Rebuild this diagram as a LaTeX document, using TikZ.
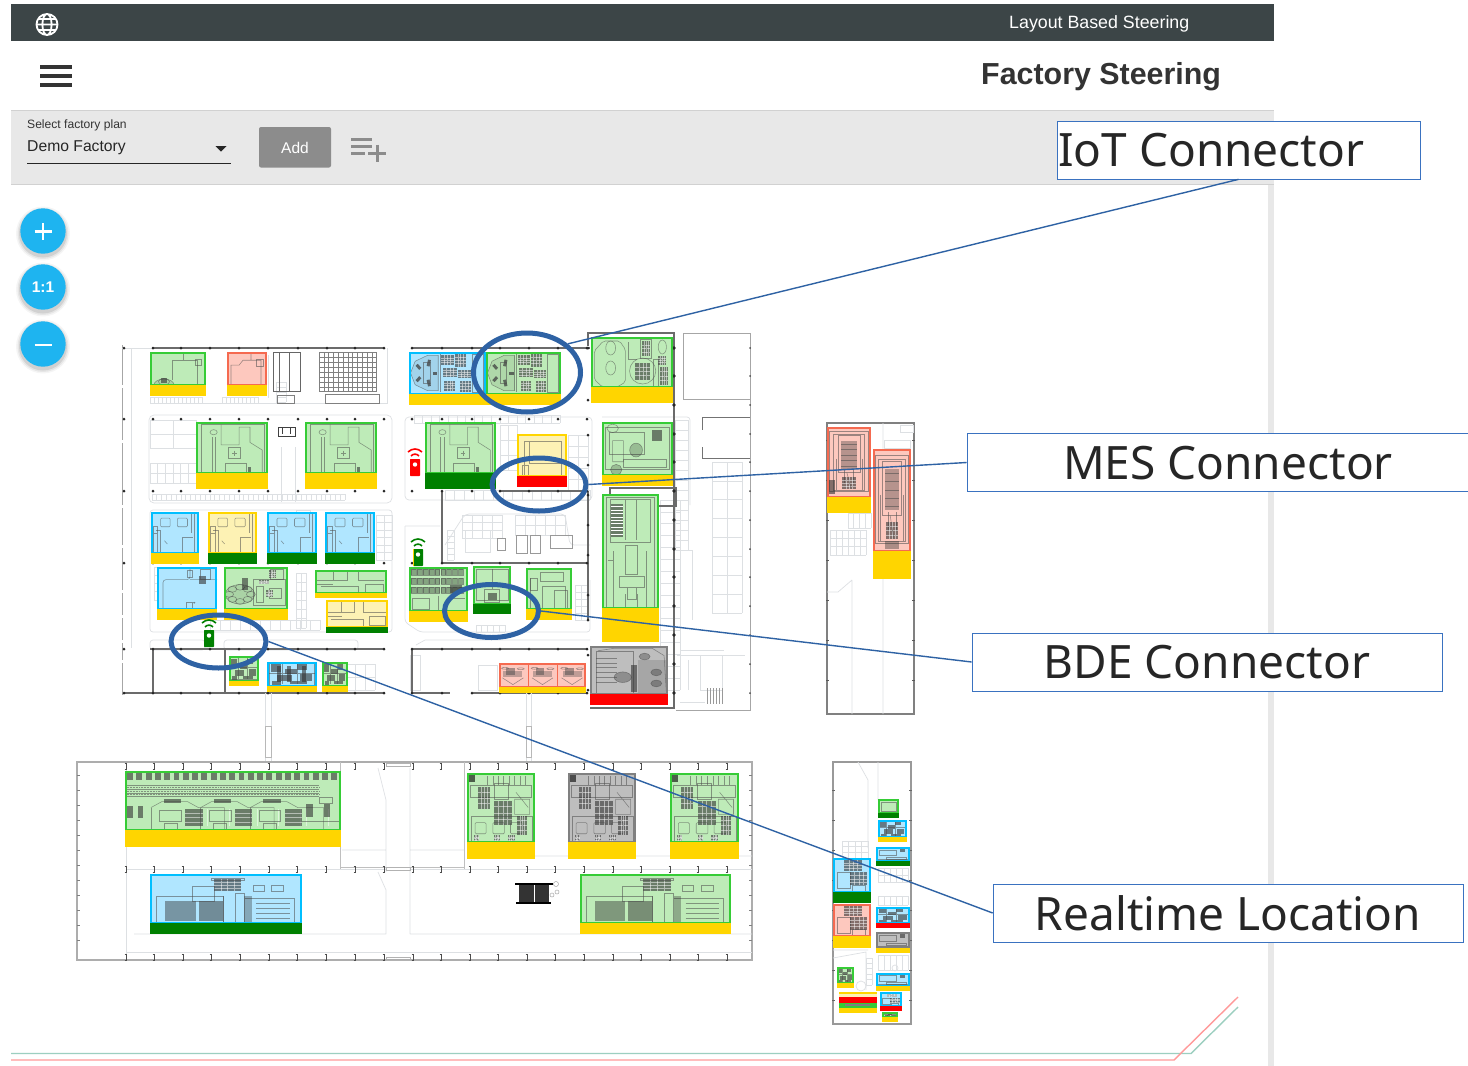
\documentclass[tikz,border=0pt]{standalone}
\usepackage{fontspec}
\setmainfont{Liberation Sans}
\newfontfamily\cfont{Noto Sans}
\usetikzlibrary{shapes.geometric}
\definecolor{gE}{HTML}{36CC36}\definecolor{gF}{HTML}{BEEBB8}
\definecolor{rE}{HTML}{F56A50}\definecolor{rF}{HTML}{FDC8BE}
\definecolor{bE}{HTML}{00BFFF}\definecolor{bF}{HTML}{B0E6FF}
\definecolor{yE}{HTML}{FFD500}\definecolor{yF}{HTML}{FDF2B4}
\definecolor{aE}{HTML}{808080}\definecolor{aF}{HTML}{BEBEBE}
\definecolor{gold}{HTML}{FFD500}\definecolor{dkg}{HTML}{008000}\definecolor{alarm}{HTML}{FF0000}
\definecolor{topbar}{HTML}{3C4547}\definecolor{tool}{HTML}{E8E8E8}\definecolor{btn}{HTML}{8C8C8C}
\definecolor{fab}{HTML}{1EB4F0}\definecolor{ring}{HTML}{2E62A4}\definecolor{boxl}{HTML}{3A72C0}
\definecolor{lgl}{HTML}{DDE0E3}\definecolor{footg}{HTML}{9CCFC0}\definecolor{footr}{HTML}{FF9A9A}
\tikzset{
 dl/.style={draw=black!70,draw opacity=.55,line width=.55pt},
 dd/.style={fill=black!80,fill opacity=.6},
 lg/.style={draw=lgl,line width=.7pt},
 wall/.style={draw=black!58,line width=1.2pt},
 thin wall/.style={draw=black!35,line width=.9pt},
 ringe/.style={draw=ring,line width=5pt,ellipse,inner sep=0pt},
 calloutbox/.style={draw=boxl,line width=.7pt,fill=white,inner sep=0pt},
 callouttext/.style={font=\cfont\fontsize{46}{46}\selectfont,text=black!85,inner sep=0pt},
 conn/.style={draw=ring,line width=1.4pt},
 uitext/.style={inner sep=0pt,anchor=west},
}
% dark hatched block
\newcommand\hb[4]{\fill[dd] (#1,#2) rectangle (#3,#4);\foreach \t in {.25,.5,.75}{\draw[white,opacity=.5,line width=.3pt] ({#1+(#3-#1)*\t},#2)--({#1+(#3-#1)*\t},#4) (#1,{#2+(#4-#2)*\t})--(#3,{#2+(#4-#2)*\t});}}
% detail drawings, in a 0..100 x 0..100 frame
\newcommand\dA{\draw[dl] (8,100)--(8,5)--(95,5)--(95,100);\draw[dl] (22,100)--(22,30) (27,100)--(27,30);\draw[dl] (24.5,20) circle (5);
 \draw[dl] (35,5)--(35,45)--(60,45)--(60,10)--(75,10)--(75,40)--(92,55)--(92,100);\draw[dl] (45,50) rectangle (62,72) (50,61)--(57,61) (53.5,56)--(53.5,66);\draw[dl] (40,80) rectangle (70,100);\fill[dd] (72,88) rectangle (76,100);}
\newcommand\dB{\draw[dl,fill=black,fill opacity=.08] (2,50)--(8,22)--(24,8)--(38,8)--(38,92)--(24,92)--(8,78)--cycle;
 \foreach \a in {0,72,...,288}{\draw[black!75,opacity=.75,line width=3pt] ({22+9*cos(\a)},{50+17*sin(\a)})--({22+15*cos(\a)},{50+33*sin(\a)});}
 \draw[dl] (19,25) rectangle (27,75);
 \hb{42}{8}{58}{30}\hb{60}{5}{74}{35}\hb{44}{38}{62}{60}\hb{46}{68}{60}{92}\hb{64}{42}{80}{62}\hb{66}{68}{80}{95}\draw[dl] (82,5) rectangle (96,95) (40,4)--(40,96);}
\newcommand\dV{\draw[dl,rounded corners=2pt] (4,28)--(15,8)--(35,8)--(42,25)--(42,90)--(32,100)--(14,100)--(4,85)--cycle;\draw[dl] (24,22) ellipse (6 and 14) (24,62) ellipse (6 and 14);\hb{54}{52}{72}{85}\draw[dl] (63,68) ellipse (16 and 26);\hb{62}{8}{72}{38}\draw[dl] (60,5) rectangle (74,42);\draw[dl] (87,20) ellipse (5 and 14);\hb{82}{38}{92}{55}\hb{84}{60}{94}{96}\draw[dl] (76,45) rectangle (82,98);\draw[dl] (46,10)--(46,45)--(56,45);}
\newcommand\dC{\draw[dl,rounded corners=1pt] (20,15) rectangle (40,36) (55,15) rectangle (76,36);\draw[dl] (5,35) rectangle (14,52) (14,45)--(14,100) (5,45)--(5,100);\draw[dl] (90,5)--(90,100) (84,5)--(84,50);\draw[dl] (66,100)--(66,62)--(88,62);\draw[dl] (10,45)--(20,45)--(20,100);\draw[dl] (28,70)--(34,78);}
\newcommand\dD{\draw[dl,fill=black,fill opacity=.1] (25,65) circle (23);\foreach \a in {0,45,...,315}{\draw[dl] ({25+cos(\a)*17},{65+sin(\a)*17}) circle (7);}\fill[dd] (28,25) rectangle (38,55);\draw[dl] (45,30) rectangle (95,90);\hb{70}{8}{82}{25}\hb{55}{30}{70}{40}\draw[dl] (50,45) rectangle (62,85) (70,50) rectangle (90,75) (72,5) rectangle (92,30);\hb{66}{55}{76}{72}}
\newcommand\dE{\draw[dl] (8,3) rectangle (92,100);\draw[dl] (15,5) rectangle (85,42);\fill[dd] (16,9) rectangle (37,38);\foreach \y in {11,14,...,37}{\draw[white,line width=.3pt] (16,\y)--(37,\y);}
 \draw[dl] (40,5)--(40,40) (60,5)--(60,40);\draw[dl] (40,45) rectangle (62,70) (30,72) rectangle (75,82) (45,82) rectangle (60,92);\draw[dl] (20,50)--(20,100) (78,50)--(78,100) (10,58)--(20,58);\draw[dl] (40,88)--(40,100) (62,88)--(62,100);}
\newcommand\dF{\draw[dl] (5,18) rectangle (95,35);\foreach \x in {30,38,...,92}{\draw[dl] (\x,4)--(\x,18);}\hb{16}{20}{34}{52}\hb{40}{40}{66}{75}\draw[dl] (6,62) rectangle (96,100);\draw[dl,rounded corners=1pt] (12,72) rectangle (28,88) (38,72) rectangle (55,88) (64,72) rectangle (82,88);\hb{74}{62}{88}{90}\draw[dl] (40,15) rectangle (60,38);\hb{10}{90}{18}{100}\hb{40}{90}{48}{100}\hb{60}{90}{70}{100}\fill[black,opacity=.6] (3,3) rectangle (12,13);\draw[dl] (72,28)--(90,50) (70,38) rectangle (92,60);}
\newcommand\dG{\foreach \x in {1,5.3,...,96}{\fill[dd] (\x,3) rectangle ++(2.7,13);}\foreach \y in {25,31,37,43}{\draw[dl] (0,\y)--(90,\y);}\foreach \y in {28,34,40}{\draw[dl,densely dotted] (0,\y)--(90,\y);}
 \foreach \x in {12,35,58}{\draw[dl] (\x,62)--(\x,100);\draw[dl] (\x,62) -- ++(5,-10)--++(12,0)--++(5,10)--++(12,0)--++(0,38);\fill[dd] (\x+6,48) rectangle ++(8,6);\hb{\x+16}{64}{\x+24}{94}\draw[dl] (\x+4,66) rectangle ++(10,20);\draw[dl] (\x+6,88) rectangle ++(6,12);}
 \fill[dd] (1,60) rectangle ++(2.5,20);\fill[dd] (6,60) rectangle ++(2.5,20);\fill[dd] (84,56) rectangle ++(3,22);\fill[dd] (92,56) rectangle ++(3,22);\draw[dl] (82,85)--(100,85);\draw[dl] (90,44) rectangle (96,54);}
\newcommand\dH{\draw[dl] (4,45) rectangle (48,100);\fill[dd,fill opacity=.45] (10,55) rectangle (30,95);\fill[dd,fill opacity=.5] (32,55) rectangle (48,95);\hb{42}{10}{60}{35}\draw[dl] (28,25) rectangle (42,55);\draw[dl] (48,45)--(48,100) (56,40) rectangle (62,100) (62,50) rectangle (95,100);\fill[dd,fill opacity=.35] (62,45) rectangle (67,100);\foreach \y in {60,70,80,90}{\draw[dl] (70,\y)--(92,\y);}\draw[dl] (68,22) rectangle (75,35) (80,22) rectangle (88,35);\draw[dl] (40,8) rectangle (62,12);}
\newcommand\dK{\foreach \x/\y/\w/\h in {8/10/20/30,35/30/25/20,20/55/30/25,60/10/20/22,65/50/25/30,10/80/18/14,45/80/35/12}{\fill[dd] (\x,\y) rectangle ++(\w,\h);}\draw[dl] (4,5) rectangle (95,95);\draw[dl] (30,8)--(30,92) (60,8)--(60,92) (4,45)--(95,45);}
\newcommand\dL{\draw[dl] (3,45)--(45,45)--(45,8) (60,8)--(60,45)--(96,45) (25,8)--(25,45) (70,60) rectangle (95,95);\draw[dl] (8,72) -- (60,72)--(60,98);\draw[dl] (3,60)--(25,60);}
\newcommand\dM{\draw[dl] (10,25)--(10,100) (35,100)--(35,45)--(85,45)--(85,100);\draw[dl] (10,25) rectangle (25,55) (30,10) rectangle (80,32);\draw[dl] (62,55) rectangle (90,100);}
\newcommand\dN{\draw[dl] (6,6) rectangle (94,92);\draw[dl] (15,10) rectangle (85,90);\fill[dd,fill opacity=.35] (32,20) rectangle (68,60);\foreach \y in {24,32,40,48,56}{\draw[dl] (32,\y)--(68,\y);}\draw[dl] (40,62)--(40,80) (60,62)--(60,80) (20,45)--(20,90) (80,45)--(80,90);\hb{35}{72}{65}{88}\draw[dl] (25,12) rectangle (75,65);\draw[dl] (45,65)--(55,88);}
\newcommand\dO{\hb{30}{6}{75}{38}\draw[dl] (10,42) rectangle (45,90);\hb{45}{42}{90}{80}\draw[dl] (50,80) rectangle (85,100);}
\newcommand\dS{\fill[black,opacity=.12] (62,30) rectangle (98,100);\draw[dl] (8,10) rectangle (55,100);\draw[dl] (10,10)--(30,5)--(80,5)--(95,20)--(98,100);\foreach \a/\b in {70/22,85/55,85/78}{\draw[dl,fill=black,fill opacity=.25] (\a,\b) circle (7);}\draw[dl,fill=black,fill opacity=.25] (42,65) circle (11);\foreach \y in {25,35,45,55,65,75}{\draw[dl] (8,\y)--(35,\y);}\fill[dd] (52,40) rectangle (60,95);}
\newcommand\dT{\draw[dl] (5,10) rectangle (95,90);\draw[dl] (10,20) -- (60,20)--(60,60)--(10,60)--cycle;\draw[dl] (30,70) rectangle (90,85);\fill[dd] (70,15) rectangle (85,35);}
\newcommand\dU{\foreach \x in {16,50,84}{\fill[black!70,fill opacity=.35] (\x-11,35) rectangle (\x+11,60);\fill[black!70,fill opacity=.5] (\x-8,20) rectangle (\x+2,48);\draw[dl] (\x-12,62) -- (\x,90)--(\x+12,62);\draw[dl] (\x-9,22) circle (4);\draw[dl] (\x+9,24) circle (4);}\draw[rE,line width=.4pt] (33,5)--(33,95) (67,5)--(67,95);}
% \mach{x1}{y1}{x2}{ybar}{y2}{edge}{fill}{bar}{detail}
\newcommand\mach[9]{%
 \pgfmathsetmacro\mw{(#3-#1)/100}\pgfmathsetmacro\mh{(#4-#2)/100}%
 \fill[#7] (#1,#2) rectangle (#3,#4);
 \begin{scope}[shift={(#1,#2)},xscale=\mw,yscale=\mh]#9\end{scope}
 \draw[#6,line width=1.6pt] (#1+.8,#2+.8) rectangle (#3-.8,#4);
 \fill[#8] (#1,#4) rectangle (#3,#5);}
\newcommand\cells[6]{\foreach \i in {0,...,#5}{\draw[lg] ({#1+(#3-#1)*\i/#5},#2)--({#1+(#3-#1)*\i/#5},#4);}\foreach \j in {0,...,#6}{\draw[lg] (#1,{#2+(#4-#2)*\j/#6})--(#3,{#2+(#4-#2)*\j/#6});}}
\newcommand\wifi[4]{% x y top-colour body-colour
 \draw[#3,line width=1.6pt] (#1-7,#2-14) .. controls (#1-3,#2-18) and (#1+3,#2-18) .. (#1+7,#2-14);
 \draw[#3,line width=1.6pt] (#1-4,#2-10) .. controls (#1-2,#2-12.5) and (#1+2,#2-12.5) .. (#1+4,#2-10);
 \fill[#4,rounded corners=.6pt] (#1-5,#2-7) rectangle (#1+5,#2+10);
 \fill[white] (#1,#2-1.5) circle (2.2);}
\begin{document}
\begin{tikzpicture}[x=1pt,y=-1pt]
\useasboundingbox (0,0) rectangle (1468,1066);
\fill[white] (0,0) rectangle (1468,1066);
% --- app chrome
\fill[tool] (1268,184) rectangle (1274,1066);
\fill[topbar] (11,4) rectangle (1274,41);
\draw[white,line width=1.8pt] (47,24.5) circle (10.5) (47,24.5) ellipse (4.6 and 10.5) (36.5,24.5)--(57.5,24.5) (38,19)--(56,19) (38,30)--(56,30);
\node[uitext,text=white,font=\fontsize{17.8}{18}\selectfont] (title) at (1009,23.5) {Layout Based Steering};
\draw[black!80,line width=3.4pt] (40,67)--(72,67) (40,76)--(72,76) (40,85)--(72,85);
\node[uitext,text=black!80,font=\bfseries\fontsize{30.4}{31}\selectfont] (head) at (981,76.5) {Factory Steering};
\fill[tool] (11,110) rectangle (1274,184);
\draw[black!18,line width=.8pt] (11,110)--(1274,110) (11,184)--(1274,184);
\node[uitext,text=black!80,font=\fontsize{12.1}{13}\selectfont] (sel) at (27,125) {Select factory plan};
\node[uitext,text=black!85,font=\fontsize{15.7}{17}\selectfont] (demo) at (27,148) {Demo Factory};
\draw[black!85,line width=1pt] (27,163.5)--(231,163.5);
\fill[black!85] (215.5,146)--(226.5,146)--(221,151.5)--cycle;
\fill[btn,rounded corners=2pt] (259,127) rectangle (331,167.5);
\node[text=white,inner sep=0pt,font=\fontsize{15.5}{17}\selectfont] (add) at (295,147.5) {Add};
\draw[btn,line width=3pt] (351,139.5)--(372,139.5) (351,146)--(372,146) (351,153)--(365,153) (368,153)--(385.5,153) (377,144.5)--(377,162);
% zoom buttons
\foreach \y in {231,287,344}{
 \foreach \r/\o in {27/.04,25.5/.06,24/.09}{\fill[black,opacity=\o] (43,\y+2.5) circle (\r);}
 \fill[fab] (43,\y) circle (22.7);}
\draw[white,line width=2.4pt] (34.5,231.5)--(51.5,231.5) (43,223)--(43,240) (34.5,345)--(51.5,345);
\node[text=white,inner sep=0pt,font=\bfseries\fontsize{15.5}{16}\selectfont] (onetoone) at (43,287.5) {1:1};
% --- upper plan: light aisle frames
\draw[lg,rounded corners=5pt] (149,415) rectangle (392,503);
\draw[lg,rounded corners=3pt] (150,510) rectangle (392,632);
\draw[lg] (150,403)--(387,403)--(387,348);
\draw[lg] (131,348)--(131,648);
\cells{150}{397}{202}{403}{13}{1}\cells{222}{397}{258}{403}{9}{1}
\cells{150}{420}{196}{448}{2}{2}\cells{150}{463}{196}{483}{6}{2}
\cells{152}{494}{345}{500}{40}{1}
\cells{276}{382}{286}{402}{1}{4}
\draw[lg] (268,355)--(268,398) (281,447)--(281,502) (295,447)--(295,502);
\draw[black!60,line width=.6pt] (273,352) rectangle (300,391) (279,352)--(279,391) (289,352)--(289,391);
\draw[black!50,line width=.6pt] (277,395) rectangle (294,403);
\foreach \i in {0,...,12}{\draw[black!50,line width=.6pt] ({319+\i*4.8},352.5)--({319+\i*4.8},392);}
\foreach \j in {0,...,8}{\draw[black!50,line width=.6pt] (319,{352.5+\j*4.9})--(377,{352.5+\j*4.9});}
\draw[black!50,line width=.6pt] (325,394) rectangle (379,403);
\draw[black!75,line width=.7pt] (278,427) rectangle (295,436) (282,428)--(282,434) (290,428)--(290,434);
\cells{296}{510}{310}{560}{1}{4}\cells{376}{515}{392}{560}{2}{6}\cells{296}{573}{306}{628}{2}{6}
\cells{154}{567}{158}{600}{1}{4}\cells{210}{620}{320}{630}{11}{1}
\draw[lg,rounded corners=3pt] (150,640) rectangle (205,650) (224,640) rectangle (358,650);
\cells{345}{664}{375}{690}{3}{2}
% middle block
\draw[lg,rounded corners=4pt] (405,417) rectangle (592,500);
\cells{414}{415}{560}{423}{17}{1}\cells{500}{425}{517}{470}{2}{3}\cells{568}{435}{588}{490}{2}{5}
\cells{445}{490}{590}{500}{15}{1}
\draw[lg,rounded corners=4pt] (445,545)--(465,514)--(565,514)--(570,545)--(590,545);
\cells{462}{515}{502}{538}{4}{3}\cells{515}{515}{565}{535}{5}{2}\cells{447}{530}{454}{560}{1}{5}
\draw[black!40,line width=.6pt] (497,538) rectangle (505,550) (516,535) rectangle (527,553) (530,535) rectangle (540,553) (550,535) rectangle (572,548);
\draw[lg] (465,530) rectangle (490,552);
\draw[lg,rounded corners=3pt] (405,526)--(405,622)--(420,632)--(590,632)--(590,580);
\cells{476}{625}{505}{632}{5}{1}\cells{575}{585}{587}{620}{2}{5}
\draw[lg] (405,526)--(440,526) (416,645)--(425,640)--(590,640);
\draw[lg] (410,655) rectangle (420,690) (478,665) rectangle (497,690);
% right part of the block
\draw[lg,rounded corners=3pt] (602,417)--(690,417)--(690,505);
\cells{675}{420}{688}{550}{1}{13}\cells{660}{500}{680}{690}{1}{16}
\draw[lgl,line width=.8pt] (678,550)--(692,550)--(692,620);
\draw[black!55,line width=1pt] (702,417)--(750,417) (702,417)--(702,430) (702,458)--(750,458) (702,447)--(702,458);
\cells{712}{462}{742}{613}{2}{8}
\draw[lg] (680,650)--(724,650) (677,655)--(745,655) (688,660)--(688,690) (700,655)--(700,690)--(722,690)--(722,655);
\foreach \x in {707,710,713,716,719,722}{\draw[black!40,line width=.5pt] (\x,688)--(\x,704);}
\draw[lg] (680,702)--(705,702);
% walls of upper plan
\draw[thin wall] (122,345)--(122,695);
\foreach \y in {385,440,505,545,590,615,640,660}{\draw[white,line width=1.6pt] (122,\y)--(122,\y+3);}
\draw[lg,line width=.9pt] (122,348)--(152,348);
\draw[wall] (152,348)--(384,348) (150,649)--(385,649) (153,649)--(153,693) (124,693)--(385,693) (225,649)--(225,693);
\draw[wall] (412,348)--(590,348);
\draw[wall] (442,491)--(442,563)--(588,563) (500,491)--(588,491) (588,491)--(588,620);
\draw[wall] (412,649)--(588,649) (412,649)--(412,693) (412,693)--(450,693) (473,693)--(588,693);
\draw[wall] (588,346)--(588,333)--(674,333)--(674,708)--(590,708);
\draw[wall] (610,506)--(610,488)--(676,488)--(676,506)--cycle;
\draw[thin wall] (683,333)--(750,333)--(750,710)--(676,710) (683,333)--(683,399)--(750,399);
\foreach \x in {124,153,181,210,239,268,298,327,355,384}{\foreach \y in {348,419,491,563,649,693}{\fill[black!85] (\x,\y) circle (1.5);}}
\foreach \x in {412,442,472,500,529,558,587}{\foreach \y in {348,419,491,563,649,693}{\fill[black!85] (\x,\y) circle (1.5);}}
\foreach \y in {348,376,405,434,462,491,520,549,577,606,635,664,693}{\fill[black!85] (674,\y) circle (1.8);\fill[black!70] (750,\y) circle (1);}
\foreach \y in {348,400,435,465,495,525,555,595,620,655,690}{\fill[black!85] (588,\y) circle (1.5);}
% links between the buildings
\draw[lg] (265,693)--(265,762) (271,693)--(271,762) (526,693)--(526,762) (531,693)--(531,762);
\draw[black!28,line width=1pt] (265,726) rectangle (271,757) (526,726) rectangle (531,757);
% --- upper plan machines
\mach{150}{352}{206}{385}{396}{gE}{gF}{gold}{\draw[dl,fill=black,fill opacity=.1] (25,100) circle (18);\draw[dl] (25,90) circle (10);\fill[dd] (20,80) rectangle (30,95);\draw[dl] (40,85)--(40,25)--(60,25)--(60,5) (60,25)--(85,25)--(85,100);\draw[dl] (80,22) rectangle (92,40);}
\mach{227}{352}{267}{385}{396}{rE}{rF}{gold}{\draw[dl] (10,100)--(10,40)--(30,40)--(40,25)--(60,25)--(60,5) (60,25)--(85,25)--(85,100);\draw[dl] (72,22) rectangle (90,42);}
\mach{196}{422}{268}{473}{489}{gE}{gF}{gold}{\dA}
\mach{305}{422}{377}{473}{489}{gE}{gF}{gold}{\dA}
\mach{151}{512}{199}{553}{564}{bE}{bF}{gold}{\dC}
\mach{208}{512}{257}{553}{564}{yE}{yF}{dkg}{\dC}
\mach{267}{512}{317}{553}{564}{bE}{bF}{dkg}{\dC}
\mach{325}{512}{375}{553}{564}{bE}{bF}{dkg}{\dC}
\mach{157}{567}{217}{609}{620}{bE}{bF}{gold}{\draw[dl,rounded corners=3pt] (10,100)--(10,30)--(55,30)--(55,5) (55,30)--(100,30);\fill[dd] (70,22) rectangle (82,40);\draw[dl] (72,5) rectangle (88,30) (50,8) rectangle (58,25);\draw[dl] (48,85) rectangle (58,100);\fill[dd] (62,85) circle (2);}
\mach{224}{567}{288}{609}{620}{gE}{gF}{gold}{\dD}
\mach{315}{570}{387}{593}{598}{gE}{gF}{gold}{\dL}
\mach{326}{600}{388}{627}{633}{yE}{yF}{dkg}{\dL}
\mach{229}{656}{259}{681}{686}{gE}{gF}{gold}{\dK}
\mach{267}{662}{317}{686}{692}{bE}{bF}{gold}{\dK\foreach \x in {20,40,70}{\fill[dd] (\x,15) rectangle ++(8,70);}}
\mach{322}{662}{348}{686}{692}{gE}{gF}{gold}{\dK}
\mach{409}{352}{486}{394}{405}{bE}{bF}{gold}{\dB}
\mach{486}{352}{561}{394}{405}{gE}{gF}{gold}{\dB}
\mach{591}{337}{673}{387}{403}{gE}{gF}{gold}{\dV}
\mach{425}{422}{496}{473}{489}{gE}{gF}{dkg}{\dA}
\mach{517}{434}{567}{476}{487}{yE}{yF}{alarm}{\draw[dl] (15,18) rectangle (88,100) (10,75) rectangle (22,100);\draw[dl] (25,18)--(25,70)--(88,70);}
\mach{602}{422}{673}{475}{486}{gE}{gF}{gold}{\dT\draw[dl,fill=black,fill opacity=.2] (48,53) ellipse (9 and 13);\draw[dl,fill=black,fill opacity=.2] (20,90) ellipse (8 and 10);\draw[dl] (15,12) ellipse (8 and 8) (15,35) rectangle (30,75);}
\mach{602}{494}{659}{608}{642}{gE}{gF}{gold}{\dE}
\mach{409}{567}{468}{611}{622}{gE}{gF}{gold}{\foreach \x in {4,14,...,84}{\foreach \y in {5,25,45}{\draw[dl,fill=black,fill opacity=.3] (\x,\y) rectangle ++(8,14);}}\fill[dd] (70,40) rectangle (90,60);\draw[dl] (5,70) rectangle (35,95);\draw[dl] (50,65)--(50,100) (65,70)--(95,70);}
\mach{473}{566}{511}{604}{614}{gE}{gF}{dkg}{\draw[dl] (8,8) rectangle (92,90);\draw[dl] (30,60) rectangle (70,95);\fill[dd] (40,72) rectangle (62,90);\draw[dl] (50,8)--(50,60);}
\mach{526}{568}{572}{609}{620}{gE}{gF}{gold}{\dM}
\mach{499}{663}{586}{687}{693}{rE}{rF}{gold}{\dU}
\mach{590}{646}{668}{694}{705}{aE}{aF}{alarm}{\dS}
% --- lower plan
\draw[black!32,line width=1.6pt] (77,762) rectangle (752,960);
\draw[lg] (126,770)--(126,957) (126,869)--(386,869) (410,869)--(752,869) (126,952)--(752,952);
\draw[black!25,line width=1pt] (340,762)--(340,869) (464,762)--(464,869) (340,867)--(464,867);
\draw[lg] (378,768)--(386,800)--(386,872) (410,768)--(410,872) (378,872)--(386,890)--(386,934) (410,872)--(410,934) (134,934)--(386,934) (410,934)--(752,934) (342,850)--(386,850) (410,850)--(464,850) (535,856)--(752,856);
\draw[black!30,line width=1pt] (386,763) rectangle (410,766) (386,867) rectangle (410,870) (386,957) rectangle (410,960);
\foreach \x in {126,154,183,211,240,269,297,326,355,384,413,441,470,498,527,555,584,613,641,670,698,727}{\foreach \y in {766,869,957}{\draw[black!70,line width=.6pt] (\x,\y-3)--(\x,\y+3) (\x-1.3,\y-3)--(\x+1.3,\y-3) (\x-1.3,\y+3)--(\x+1.3,\y+3);}}
\foreach \y in {775,790,805,820,835,850,865,880,895,910,925,940}{\draw[black!50,line width=.6pt] (77,\y)--(80,\y) (749,\y)--(752,\y);}
\mach{125}{771}{341}{830}{847}{gE}{gF}{gold}{\dG}
\mach{467}{773}{535}{842}{859}{gE}{gF}{gold}{\dF}
\mach{568}{773}{636}{842}{859}{aE}{aF}{gold}{\dF}
\mach{670}{773}{739}{842}{859}{gE}{gF}{gold}{\dF}
\mach{150}{874}{302}{923}{934}{bE}{bF}{dkg}{\dH}
\mach{580}{874}{731}{923}{934}{gE}{gF}{gold}{\dH}
\fill[black!80] (519,884) rectangle (549,903);\draw[white,line width=1pt] (534,884)--(534,903);\draw[black,line width=1.5pt] (515,884)--(553,884) (516,903)--(551,903);
\draw[black!35,line width=.5pt] (556,884) circle (2.5) (552,895) circle (2) (557,892) circle (2);
% --- right upper building
\draw[black!50,line width=1.2pt] (827,423) rectangle (914,714);
\foreach \y in {440,480,520,560,600,640,680}{\draw[black!65,line width=.7pt] (826,\y)--(829,\y) (912,\y)--(915,\y);}
\draw[lg] (883,423)--(883,714) (852,580)--(852,714) (838,592)--(852,580) (827,592)--(838,592);
\cells{830}{530}{866}{555}{6}{3}\cells{848}{513}{871}{528}{4}{1}
\draw[lg] (900,425) rectangle (913,432) (884,440) rectangle (910,448);
\mach{827}{427}{871}{497}{513}{rE}{rF}{gold}{\dN\fill[dd] (5,75) rectangle (18,95);}
\mach{873}{449}{911}{551}{579}{rE}{rF}{gold}{\dN\fill[dd,fill opacity=.4] (32,90) rectangle (68,98);}
% --- right lower building
\draw[black!40,line width=1.2pt] (833,762) rectangle (911,1024);
\foreach \y in {790,820,850,880,910,940,970,1000}{\draw[black!60,line width=.7pt] (832,\y)--(835,\y) (909,\y)--(912,\y);}
\draw[lg] (858,762)--(868,780)--(868,848) (878,762)--(878,800) (833,950)--(868,950) (833,958)--(866,952)--(866,990);
\cells{842}{841}{868}{858}{4}{3}\cells{878}{868}{908}{882}{5}{2}\cells{878}{896}{908}{905}{5}{1}\cells{866}{958}{872}{985}{1}{5}\cells{878}{955}{908}{970}{5}{1}
\draw[lg] (861,986) circle (5) (895,968) circle (3);
\mach{878}{799}{899}{813}{818}{gE}{gF}{dkg}{\draw[dl] (15,20) rectangle (85,85);}
\mach{878}{820}{907}{837}{842}{bE}{bF}{gold}{\dK}
\mach{876}{847}{910}{861}{866}{bE}{bF}{dkg}{\dT}
\mach{833}{858}{871}{892}{903}{bE}{bF}{dkg}{\dO}
\mach{833}{904}{871}{936}{948}{rE}{rF}{gold}{\dO}
\mach{876}{907}{910}{923}{928}{bE}{bF}{alarm}{\dK}
\mach{876}{932}{910}{948}{953}{aE}{aF}{gold}{\dT}
\mach{837}{967}{854}{983}{988}{gE}{gF}{gold}{\dK}
\mach{876}{973}{910}{986}{991}{bE}{bF}{gold}{\dT}
\fill[gold] (839,992) rectangle (877,1013);\fill[yF] (839,994) rectangle (877,997);\fill[alarm] (839,997) rectangle (877,1002.5);\fill[gE] (839,1003) rectangle (877,1008);\fill[black!50] (845,1004) rectangle (870,1006);
\mach{880}{992}{902}{1006}{1011}{bE}{bF}{alarm}{\dO}
\mach{882}{1012}{898}{1017}{1022}{gE}{gF}{gold}{\dK}
% --- tag beacons
\wifi{415}{466}{alarm}{alarm}
\wifi{418}{556}{dkg}{dkg}
\fill[gold] (413,549) rectangle (414,566);
\wifi{209}{637}{dkg}{dkg}
% --- footer lines
\draw[footg,line width=1.4pt] (11,1053.5)--(1191,1053.5)--(1238,1007);
\draw[footr,line width=1.4pt] (11,1060)--(1174,1060)--(1238,997);
% --- callouts
\node[ringe,minimum width=107pt,minimum height=79pt] (e1) at (527,372.5) {};
\node[ringe,minimum width=94pt,minimum height=53pt] (e2) at (539,484.5) {};
\node[ringe,minimum width=94pt,minimum height=53pt] (e3) at (491.5,611) {};
\node[ringe,minimum width=95pt,minimum height=53pt] (e4) at (218.5,641.5) {};
\node[calloutbox,minimum width=363pt,minimum height=58pt] (iot) at (1238.5,150) {};
\node[calloutbox,minimum width=502pt,minimum height=58pt] (mes) at (1218,462.5) {};
\node[calloutbox,minimum width=470pt,minimum height=58pt] (bde) at (1207,662) {};
\node[calloutbox,minimum width=470pt,minimum height=58pt] (rtl) at (1228,913) {};
\node[callouttext,anchor=west] (iott) at (1058,150.5) {IoT Connector};
\node[callouttext] (mest) at (1228,463.5) {MES Connector};
\node[callouttext] (bdet) at (1207,662.5) {BDE Connector};
\node[callouttext] (rtlt) at (1228,913.5) {Realtime Location};
\draw[conn] (iot.south)--(e1.35);
\draw[conn] (mes.west)--(e2.east);
\draw[conn] (bde.west)--(e3.east);
\draw[conn] (rtl.west)--(e4.east);
\end{tikzpicture}
\end{document}
